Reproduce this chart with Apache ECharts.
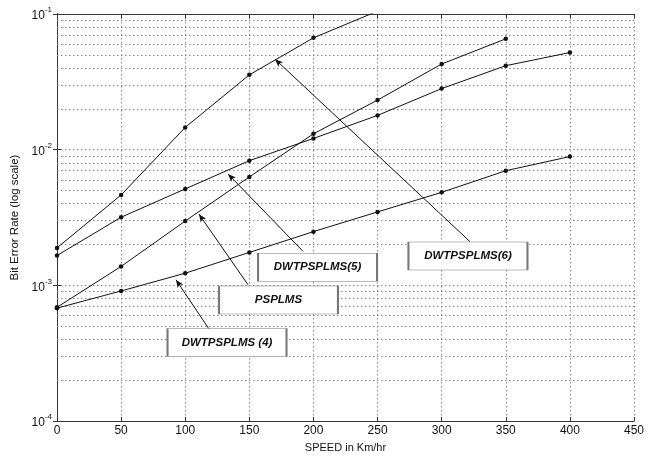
<!DOCTYPE html>
<html>
<head>
<meta charset="utf-8">
<script src="https://cdn.jsdelivr.net/npm/echarts@6/dist/echarts.min.js"></script>
<style>html,body{margin:0;padding:0;background:#fff}#c{width:650px;height:458px}</style>
</head>
<body>
<div id="c"></div>
<script>
var speeds = [0, 50, 100, 150, 200, 250, 300, 350, 400];
var xTicks = [0, 50, 100, 150, 200, 250, 300, 350, 400, 450];
var yTicks = [1e-4, 1e-3, 1e-2, 1e-1];

var dwt6 = [0.00189, 0.00464, 0.0146, 0.0356, 0.0667, 0.105];
var dwt5 = [0.00166, 0.00318, 0.00514, 0.0083, 0.0121, 0.0179, 0.0282, 0.0416, 0.052];
var psplms = [0.00069, 0.00138, 0.00298, 0.0063, 0.0131, 0.0232, 0.0428, 0.0656];
var dwt4 = [0.00068, 0.00091, 0.00123, 0.00175, 0.00249, 0.00348, 0.00485, 0.0070, 0.0089];

var minorGrid = [2e-4,3e-4,4e-4,5e-4,6e-4,7e-4,8e-4,9e-4,
                 2e-3,3e-3,4e-3,5e-3,6e-3,7e-3,8e-3,9e-3,
                 2e-2,3e-2,4e-2,5e-2,6e-2,7e-2,8e-2,9e-2];

// annotation labels: text, box center [speed, BER]
var labelTexts = ['DWTPSPLMS (4)', 'PSPLMS', 'DWTPSPLMS(5)', 'DWTPSPLMS(6)'];
var labelCenters = [[132.6, 3.79e-4], [172.7, 7.8e-4], [203.2, 1.36e-3], [320.5, 1.65e-3]];
// arrows: from [speed, BER] to [speed, BER]
var arrowFrom = [[118.5, 4.78e-4], [149, 1.01e-3], [191.9, 1.78e-3], [322.1, 2.10e-3]];
var arrowTo = [[92.8, 1.10e-3], [110.7, 3.35e-3], [133.4, 6.62e-3], [170.0, 0.0465]];

function pairs(xs, ys) { return ys.map(function (v, i) { return [xs[i], v]; }); }

var chart = echarts.init(document.getElementById('c'), null, {renderer: 'canvas'});

var FONT = 'Liberation Sans';
var gridLineStyle = {color: '#8a8a8a', type: [1.5, 2.5], width: 1};

function lineSeries(name, data) {
  return {
    name: name, type: 'line', data: data,
    symbol: 'circle', symbolSize: 4.5,
    lineStyle: {color: '#111', width: 1},
    itemStyle: {color: '#111'},
    clip: true, animation: false, z: 5
  };
}

var series = [
  lineSeries('DWTPSPLMS(6)', pairs(speeds, dwt6)),
  lineSeries('DWTPSPLMS(5)', pairs(speeds, dwt5)),
  lineSeries('PSPLMS', pairs(speeds, psplms)),
  lineSeries('DWTPSPLMS (4)', pairs(speeds, dwt4)),
  {
    type: 'line', data: [], silent: true, animation: false, z: 1,
    markLine: {
      silent: true, symbol: 'none', animation: false,
      label: {show: false},
      lineStyle: gridLineStyle,
      data: minorGrid.map(function (v) {
        return [{coord: [xTicks[0], v]}, {coord: [xTicks[xTicks.length - 1], v]}];
      })
    }
  },
  {
    type: 'line', data: [], silent: true, animation: false, z: 8,
    markPoint: {
      silent: true, animation: false,
      symbol: 'rect', symbolSize: [119, 28],
      itemStyle: {color: '#fff', borderColor: '#777', borderWidth: 1},
      label: {show: true, color: '#111', fontFamily: FONT, fontSize: 11.5,
              fontWeight: 'bold', fontStyle: 'italic',
              formatter: function (p) { return p.name; }},
      data: labelTexts.map(function (t, i) { return {name: t, coord: labelCenters[i]}; })
    },
    markLine: {
      silent: true, animation: false,
      symbol: ['none', 'arrow'], symbolSize: [5, 8],
      label: {show: false},
      lineStyle: {color: '#111', width: 1, type: 'solid'},
      data: arrowFrom.map(function (f, i) { return [{coord: f}, {coord: arrowTo[i]}]; })
    }
  }
];

chart.setOption({
  animation: false,
  backgroundColor: '#fff',
  grid: {left: 57, right: 16, top: 14, bottom: 29, show: false},
  xAxis: [{
    type: 'value', min: 0, max: 450, interval: 50,
    name: 'SPEED in Km/hr', nameLocation: 'middle', nameGap: 19,
    nameTextStyle: {color: '#111', fontFamily: FONT, fontSize: 11},
    axisLine: {show: true, lineStyle: {color: '#333', width: 1}},
    axisTick: {show: true, inside: true, length: 4, lineStyle: {color: '#333'}},
    axisLabel: {color: '#111', fontFamily: FONT, fontSize: 12, margin: 4,
                customValues: xTicks},
    splitLine: {show: true, lineStyle: gridLineStyle}
  }, {
    type: 'value', min: 0, max: 450, interval: 50, position: 'top',
    axisLine: {show: true, lineStyle: {color: '#333', width: 1}},
    axisTick: {show: true, inside: true, length: 4, lineStyle: {color: '#333'}},
    axisLabel: {show: false}, splitLine: {show: false}
  }],
  yAxis: [{
    type: 'log', logBase: 10, min: 1e-4, max: 1e-1,
    name: 'Bit Error Rate (log scale)', nameLocation: 'middle', nameGap: 33,
    nameTextStyle: {color: '#111', fontFamily: FONT, fontSize: 11.5},
    axisLine: {show: true, lineStyle: {color: '#333', width: 1}},
    axisTick: {show: true, inside: true, length: 4, lineStyle: {color: '#333'}},
    axisLabel: {
      margin: 5, fontFamily: FONT,
      formatter: function (v) {
        var e = Math.round(Math.log10(v));
        return '{b|10}{s|' + e + '}';
      },
      rich: {
        b: {fontSize: 12, color: '#111', fontFamily: FONT, verticalAlign: 'bottom', lineHeight: 16},
        s: {fontSize: 8, color: '#111', fontFamily: FONT, verticalAlign: 'top', lineHeight: 16}
      }
    },
    splitLine: {show: true, lineStyle: gridLineStyle}
  }, {
    type: 'log', logBase: 10, min: 1e-4, max: 1e-1, position: 'right',
    axisLine: {show: true, lineStyle: {color: '#333', width: 1}},
    axisTick: {show: true, inside: true, length: 4, lineStyle: {color: '#333'}},
    axisLabel: {show: false}, splitLine: {show: false}
  }],
  series: series
});
</script>
</body>
</html>
